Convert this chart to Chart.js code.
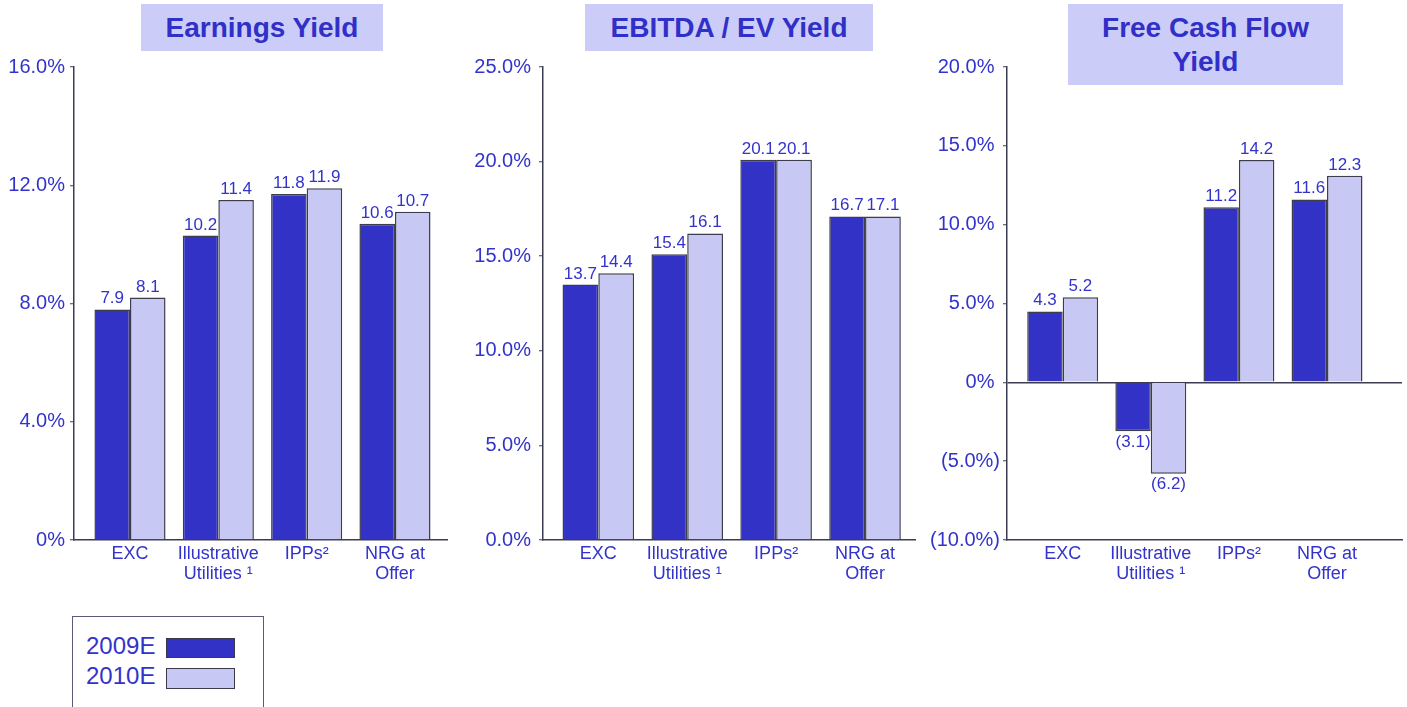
<!DOCTYPE html>
<html><head><meta charset="utf-8">
<script src="https://cdn.jsdelivr.net/npm/chart.js@4.4.1/dist/chart.umd.min.js"></script>
<style>
html,body{margin:0;padding:0;background:#fff;width:1407px;height:707px;overflow:hidden;font-family:Arial,"Liberation Sans",sans-serif;}
canvas{position:absolute;top:0;}
.title{position:absolute;background:#ccccf8;color:#3030c8;font-weight:bold;font-size:28px;text-align:center;display:flex;align-items:center;justify-content:center;line-height:34px;}
#legend{position:absolute;left:72px;top:616px;width:190px;height:110px;border:1px solid #5a5a78;}
#legend .lt{position:absolute;left:13px;font-size:24px;line-height:24px;color:#3333cc;}
#legend .sw{position:absolute;left:93px;width:69px;box-sizing:border-box;border:1.5px solid #3a3a48;}
</style>
</head><body>
<div class="title" style="left:141px;top:4px;width:242px;height:47px;">Earnings Yield</div>
<div class="title" style="left:585px;top:4px;width:288px;height:47px;">EBITDA / EV Yield</div>
<div class="title" style="left:1068px;top:4px;width:275px;height:81px;">Free Cash Flow<br>Yield</div>
<canvas id="c1" width="460" height="600" style="left:0px"></canvas>
<canvas id="c2" width="460" height="600" style="left:460px"></canvas>
<canvas id="c3" width="487" height="600" style="left:920px"></canvas>
<div id="legend"></div>
<script>
// ---- data ----
const categories = [['EXC'], ['Illustrative', 'Utilities \u00B9'], ['IPPs\u00B2'], ['NRG at', 'Offer']];
const seriesNames = ['2009E', '2010E'];

const earnings2009 = [7.8, 10.3, 11.7, 10.7];
const earnings2010 = [8.2, 11.5, 11.9, 11.1];
const earningsLabels2009 = ['7.9', '10.2', '11.8', '10.6'];
const earningsLabels2010 = ['8.1', '11.4', '11.9', '10.7'];
const earningsTicks = ['0%', '4.0%', '8.0%', '12.0%', '16.0%'];

const ebitda2009 = [13.5, 15.1, 20.1, 17.1];
const ebitda2010 = [14.1, 16.2, 20.1, 17.1];
const ebitdaLabels2009 = ['13.7', '15.4', '20.1', '16.7'];
const ebitdaLabels2010 = ['14.4', '16.1', '20.1', '17.1'];
const ebitdaTicks = ['0.0%', '5.0%', '10.0%', '15.0%', '20.0%', '25.0%'];

const fcf2009 = [4.5, -3.1, 11.1, 11.6];
const fcf2010 = [5.4, -5.8, 14.1, 13.1];
const fcfLabels2009 = ['4.3', '(3.1)', '11.2', '11.6'];
const fcfLabels2010 = ['5.2', '(6.2)', '14.2', '12.3'];
const fcfTicks = ['(10.0%)', '(5.0%)', '0%', '5.0%', '10.0%', '15.0%', '20.0%'];

// ---- style ----
const FONT = 'Arial, "Liberation Sans", sans-serif';
const TEXT = '#3333cc';
const DARK = '#3232c6';
const LIGHT = '#c8c8f4';
const EDGE = '#3d3d4d';
const AXIS = '#3c3c50';
const colors = [DARK, LIGHT];

const valueLabels = {
  id: 'valueLabels',
  afterDatasetsDraw(chart) {
    const ctx = chart.ctx;
    ctx.save();
    ctx.font = '17px ' + FONT;
    ctx.fillStyle = TEXT;
    ctx.textAlign = 'center';
    ctx.textBaseline = 'alphabetic';
    chart.data.datasets.forEach((ds, di) => {
      const meta = chart.getDatasetMeta(di);
      meta.data.forEach((bar, i) => {
        const v = ds.data[i].y;
        const t = ds.valueText[i];
        if (v >= 0) ctx.fillText(t, bar.x, bar.y - 6);
        else ctx.fillText(t, bar.x, bar.y + 15.5);
      });
    });
    ctx.restore();
  }
};

function makeChart(id, v09, v10, l09, l10, ticks, cfg) {
  const vals = [v09, v10];
  const labs = [l09, l10];
  new Chart(document.getElementById(id), {
    type: 'bar',
    data: {
      datasets: seriesNames.map((name, k) => ({
        label: name,
        data: vals[k].map((y, i) => ({x: i, y: y})),
        valueText: labs[k],
        backgroundColor: colors[k],
        borderColor: EDGE,
        borderWidth: 1.5,
        categoryPercentage: 0.805,
        barPercentage: 1.0
      }))
    },
    options: {
      responsive: false,
      animation: false,
      layout: {padding: {top: 67, right: cfg.padRight, left: 0, bottom: 0}},
      plugins: {legend: {display: false}, tooltip: {enabled: false}},
      scales: {
        x: {
          type: 'linear',
          offset: false,
          bounds: 'data',
          min: cfg.xmin, max: cfg.xmax,
          afterBuildTicks: (s) => { s.ticks = categories.map((c, i) => ({value: i})); },
          afterFit: (s) => { s.height = 60; },
          grid: {display: false, drawTicks: false, offset: false},
          border: {display: true, color: AXIS, width: 1.5},
          ticks: {
            padding: 4,
            color: TEXT,
            font: {family: FONT, size: 18, lineHeight: 1.13},
            maxRotation: 0, autoSkip: false,
            callback: (v) => categories[v] || ''
          }
        },
        y: {
          min: cfg.ymin, max: cfg.ymax,
          afterBuildTicks: (s) => { s.ticks = ticks.map((t, i) => ({value: cfg.ymin + i * cfg.step})); },
          afterFit: (s) => { s.width = cfg.axisW; },
          grid: {
            display: true,
            drawOnChartArea: true,
            drawTicks: true,
            tickLength: 4,
            tickColor: AXIS,
            tickWidth: 1,
            lineWidth: 1.5,
            color: (c) => (c.tick && c.tick.value === 0 && cfg.ymin < 0) ? AXIS : 'rgba(0,0,0,0)'
          },
          border: {display: true, color: AXIS, width: 1.5},
          ticks: {
            padding: cfg.tickPad,
            color: TEXT,
            font: {family: FONT, size: 20},
            callback: (v, i) => {
              const t = ticks[i];
              return (cfg.parenPad && t[0] !== '(') ? t + ' ' : t;
            }
          }
        }
      }
    },
    plugins: [valueLabels]
  });
}

makeChart('c1', earnings2009, earnings2010, earningsLabels2009, earningsLabels2010, earningsTicks,
  {ymin: 0, ymax: 16, step: 4, xmin: -0.634, xmax: 3.589, axisW: 74, padRight: 13, tickPad: 5, parenPad: false});
makeChart('c2', ebitda2009, ebitda2010, ebitdaLabels2009, ebitdaLabels2010, ebitdaTicks,
  {ymin: 0, ymax: 25, step: 5, xmin: -0.622, xmax: 3.562, axisW: 83, padRight: 5, tickPad: 8, parenPad: false});
makeChart('c3', fcf2009, fcf2010, fcfLabels2009, fcfLabels2010, fcfTicks,
  {ymin: -10, ymax: 20, step: 5, xmin: -0.632, xmax: 3.851, axisW: 87, padRight: 5, tickPad: 3, parenPad: true});

// legend
const lg = document.getElementById('legend');
const tops = [17, 47];
const swTops = [21, 51];
const swH = [20, 21];
seriesNames.forEach((n, k) => {
  const t = document.createElement('div');
  t.className = 'lt'; t.textContent = n; t.style.top = tops[k] + 'px';
  lg.appendChild(t);
  const s = document.createElement('div');
  s.className = 'sw'; s.style.top = swTops[k] + 'px'; s.style.height = swH[k] + 'px';
  s.style.background = colors[k];
  lg.appendChild(s);
});
</script>
</body></html>
